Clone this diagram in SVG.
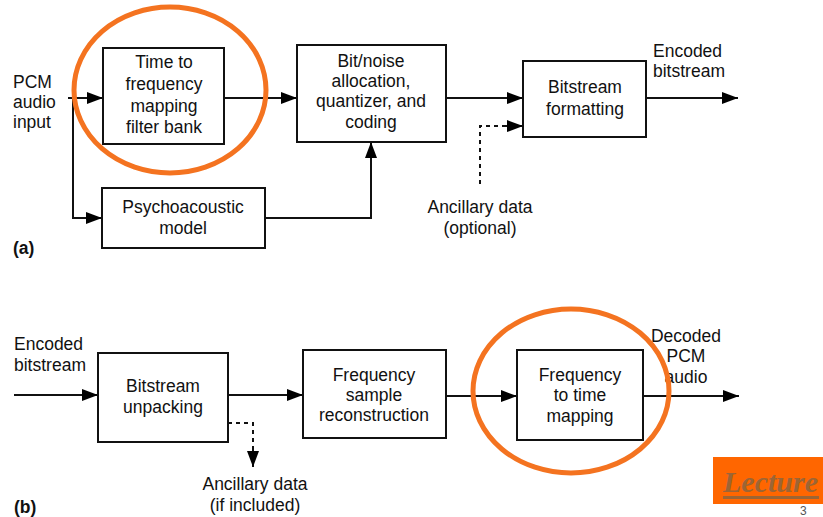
<svg xmlns="http://www.w3.org/2000/svg" width="823" height="517" viewBox="0 0 823 517">
<defs>
<marker id="ah" markerWidth="16" markerHeight="12" refX="16" refY="6" orient="auto" markerUnits="userSpaceOnUse">
<path d="M0,0 L16,6 L0,12 Z" fill="#000"/>
</marker>
</defs>
<style>
.box{fill:#fff;stroke:#111;stroke-width:2}
.t{font-family:"Liberation Sans",Arial,sans-serif;font-size:17.5px;fill:#111;text-anchor:middle}
.l{font-family:"Liberation Sans",Arial,sans-serif;font-size:17.5px;fill:#111}
.c{fill:none;stroke:#111;stroke-width:2}
.d{fill:none;stroke:#111;stroke-width:2;stroke-dasharray:4,4}
.ring{fill:none;stroke:#F47320;stroke-width:5}
</style>
<rect width="823" height="517" fill="#fff"/>
<g id="connectors">
<path class="c" d="M68,98 H103" marker-end="url(#ah)"/>
<path class="c" d="M73,98 V218 H102" marker-end="url(#ah)"/>
<path class="c" d="M224,98 H297" marker-end="url(#ah)"/>
<path class="c" d="M446,98 H523" marker-end="url(#ah)"/>
<path class="c" d="M646,98 H738" marker-end="url(#ah)"/>
<path class="c" d="M265,218 H371 V142" marker-end="url(#ah)"/>
<path class="d" d="M480,184 V126 H508"/>
<path class="c" d="M506,126 H523" marker-end="url(#ah)"/>
<path class="c" d="M14,395 H98" marker-end="url(#ah)"/>
<path class="c" d="M228,395 H303" marker-end="url(#ah)"/>
<path class="c" d="M446,396 H517" marker-end="url(#ah)"/>
<path class="c" d="M643,396 H739" marker-end="url(#ah)"/>
<path class="d" d="M228,423 H253 V450"/>
<path class="c" d="M253,450 V467" marker-end="url(#ah)"/>
</g>
<g id="tf">
<rect class="box" x="103" y="48" width="121" height="96"/>
<text class="t"><tspan x="164" y="68">Time to</tspan><tspan x="164" y="90">frequency</tspan><tspan x="164" y="112">mapping</tspan><tspan x="164" y="133">filter bank</tspan></text>
</g>
<g id="bitnoise">
<rect class="box" x="297" y="45" width="149" height="97"/>
<text class="t"><tspan x="371" y="67">Bit/noise</tspan><tspan x="371" y="87">allocation,</tspan><tspan x="371" y="107">quantizer, and</tspan><tspan x="371" y="128">coding</tspan></text>
</g>
<g id="bsformat">
<rect class="box" x="523" y="61" width="123" height="76"/>
<text class="t"><tspan x="585" y="93">Bitstream</tspan><tspan x="585" y="115">formatting</tspan></text>
</g>
<g id="psycho">
<rect class="box" x="102" y="188" width="163" height="60"/>
<text class="t"><tspan x="183" y="213">Psychoacoustic</tspan><tspan x="183" y="234">model</tspan></text>
</g>
<g id="unpack">
<rect class="box" x="98" y="353" width="130" height="89"/>
<text class="t"><tspan x="163" y="392">Bitstream</tspan><tspan x="163" y="413">unpacking</tspan></text>
</g>
<g id="fsr">
<rect class="box" x="303" y="350" width="143" height="88"/>
<text class="t"><tspan x="374" y="381">Frequency</tspan><tspan x="374" y="401">sample</tspan><tspan x="374" y="421">reconstruction</tspan></text>
</g>
<g id="ftm">
<rect class="box" x="517" y="350" width="126" height="90"/>
<text class="t"><tspan x="580" y="381">Frequency</tspan><tspan x="580" y="401">to time</tspan><tspan x="580" y="422">mapping</tspan></text>
</g>
<g id="labels">
<text class="l"><tspan x="13" y="88">PCM</tspan><tspan x="13" y="108">audio</tspan><tspan x="13" y="128">input</tspan></text>
<text class="l"><tspan x="653" y="57">Encoded</tspan><tspan x="653" y="77">bitstream</tspan></text>
<text class="t"><tspan x="480" y="213">Ancillary data</tspan><tspan x="480" y="234">(optional)</tspan></text>
<text class="l" style="font-weight:bold" x="13" y="254">(a)</text>
<text class="l"><tspan x="14" y="350">Encoded</tspan><tspan x="14" y="371">bitstream</tspan></text>
<text class="t"><tspan x="686" y="342">Decoded</tspan><tspan x="686" y="362">PCM</tspan><tspan x="686" y="383">audio</tspan></text>
<text class="t"><tspan x="255" y="490">Ancillary data</tspan><tspan x="255" y="511">(if included)</tspan></text>
<text class="l" style="font-weight:bold" x="14" y="513">(b)</text>
</g>
<g id="highlights">
<ellipse class="ring" cx="170" cy="90" rx="96" ry="83"/>
<ellipse class="ring" cx="571" cy="391" rx="98" ry="82"/>
</g>
<g id="lecture">
<rect x="713" y="457" width="110" height="47" fill="#FF6600"/>
<text x="723" y="492" style="font-family:'Liberation Serif','Times New Roman',serif;font-size:30px;font-weight:bold;font-style:italic;fill:#9C6535">Lecture</text>
<rect x="723" y="496" width="96" height="3" fill="#9C6535"/>
<text x="800" y="515" style="font-family:'Liberation Sans',Arial,sans-serif;font-size:12px;fill:#555">3</text>
</g>
</svg>
